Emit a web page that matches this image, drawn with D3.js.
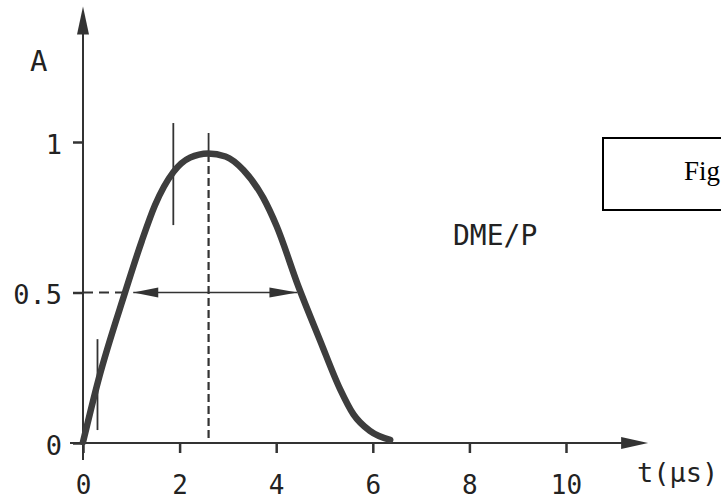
<!DOCTYPE html>
<html>
<head>
<meta charset="utf-8">
<script src="https://cdn.jsdelivr.net/npm/d3@7"></script>
<style>
    body { margin: 0; background: #fff; }
    svg { display: block; }
</style>
</head>
<body>
<svg id="mainSvg" width="721" height="502"></svg>
<script>
// pulse shape
let pulseT = [0, 0.32, 0.87, 1.215, 1.49, 1.87, 2.215, 2.59, 2.95, 3.32, 3.73, 4.01, 4.46, 4.91, 5.32, 5.6, 5.94, 6.36];
let pulseA = [0.003, 0.21, 0.5, 0.67, 0.79, 0.9, 0.948, 0.962, 0.952, 0.907, 0.815, 0.72, 0.52, 0.34, 0.18, 0.095, 0.04, 0.01];

let xTicks = [0, 2, 4, 6, 8, 10];
let yTicks = [0, 0.5, 1];
let yTickLabels = ["0", "0.5", "1"];

// short vertical markers on the rising edge
let markerT = [0.3, 1.87];
let markerLow = [0.043, 0.724];
let markerHigh = [0.345, 1.063];

// peak line and half amplitude width
let peakT = 2.6;
let peakTop = 1.03;
let halfA = 0.5;
let halfLeftT = 0.87;
let arrowLeftT = 1.04;
let arrowRightT = 4.44;

let xAxisMax = 11.7;
let yAxisMax = 1.45;

let svg = d3.select("#mainSvg");
let ink = "#333";
let mono = "DejaVu Sans Mono, monospace";

let x = d3.scaleLinear().domain([0, 10]).range([83, 566]);
let y = d3.scaleLinear().domain([0, 1]).range([443, 142]);

let g = svg.append("g");

// axis lines
g.append("line")
    .attr("x1", x(0) - 13).attr("x2", x(xAxisMax) - 20)
    .attr("y1", y(0)).attr("y2", y(0))
    .attr("stroke", ink).attr("stroke-width", 2);
g.append("line")
    .attr("x1", x(0)).attr("x2", x(0))
    .attr("y1", y(0) + 17).attr("y2", y(yAxisMax) + 20)
    .attr("stroke", ink).attr("stroke-width", 2);

// axis arrow heads
let xt = x(xAxisMax), yt = y(yAxisMax);
g.append("path")
    .attr("d", `M${xt},${y(0)} L${xt - 27},${y(0) - 6} L${xt - 27},${y(0) + 6} Z`)
    .attr("fill", ink);
g.append("path")
    .attr("d", `M${x(0)},${yt} L${x(0) - 6},${yt + 28} L${x(0) + 6},${yt + 28} Z`)
    .attr("fill", ink);

// ticks and labels
let xAxis = d3.axisBottom(x).tickValues(xTicks).tickSize(10).tickPadding(23);
let xg = g.append("g").attr("transform", `translate(0,${y(0)})`).call(xAxis);
xg.select(".domain").remove();
xg.selectAll(".tick line").attr("stroke", ink).attr("stroke-width", 2.5);
xg.selectAll(".tick text")
    .attr("fill", "#222").attr("font-family", mono).attr("font-size", 26);

let yAxis = d3.axisLeft(y).tickValues(yTicks).tickSize(10).tickPadding(11)
    .tickFormat((d, i) => yTickLabels[i]);
let yg = g.append("g").attr("transform", `translate(${x(0)},0)`).call(yAxis);
yg.select(".domain").remove();
yg.selectAll(".tick line").attr("stroke", ink).attr("stroke-width", 2.5);
yg.selectAll(".tick text")
    .attr("fill", "#222").attr("font-family", mono).attr("font-size", 27)
    .attr("dy", "0.42em");

// axis names
g.append("text").attr("x", 30).attr("y", 71)
    .attr("font-family", mono).attr("font-size", 29).attr("fill", "#222")
    .text("A");
g.append("text").attr("x", 637).attr("y", 482)
    .attr("font-family", mono).attr("font-size", 27).attr("fill", "#222")
    .text("t(μs)");
g.append("text").attr("x", 453).attr("y", 245)
    .attr("font-family", mono).attr("font-size", 28).attr("fill", "#222")
    .text("DME/P");

// marker lines
g.selectAll(".marker")
    .data(markerT)
    .join("line")
    .attr("class", "marker")
    .attr("x1", (d) => x(d)).attr("x2", (d) => x(d))
    .attr("y1", (d, i) => y(markerLow[i])).attr("y2", (d, i) => y(markerHigh[i]))
    .attr("stroke", ink).attr("stroke-width", 1.8);

// peak line: solid above the curve, dashed below
g.append("line")
    .attr("x1", x(peakT)).attr("x2", x(peakT))
    .attr("y1", y(peakTop)).attr("y2", y(0.96))
    .attr("stroke", ink).attr("stroke-width", 1.8);
g.append("line")
    .attr("x1", x(peakT)).attr("x2", x(peakT))
    .attr("y1", y(0.96)).attr("y2", y(0))
    .attr("stroke", ink).attr("stroke-width", 2.2)
    .attr("stroke-dasharray", "8,4");

// half amplitude: dashed lead in, then double arrow
g.append("line")
    .attr("x1", x(0)).attr("x2", x(halfLeftT))
    .attr("y1", y(halfA)).attr("y2", y(halfA))
    .attr("stroke", ink).attr("stroke-width", 1.8)
    .attr("stroke-dasharray", "10,6");
g.append("line")
    .attr("x1", x(arrowLeftT)).attr("x2", x(arrowRightT))
    .attr("y1", y(halfA)).attr("y2", y(halfA))
    .attr("stroke", ink).attr("stroke-width", 1.6);
let ha = y(halfA), al = x(arrowLeftT), ar = x(arrowRightT);
g.append("path")
    .attr("d", `M${al},${ha} L${al + 25},${ha - 5} L${al + 25},${ha + 5} Z`)
    .attr("fill", ink);
g.append("path")
    .attr("d", `M${ar},${ha} L${ar - 28},${ha - 5} L${ar - 28},${ha + 5} Z`)
    .attr("fill", ink);

// the pulse
let pulse = pulseT.map((t, i) => ({ t: t, a: pulseA[i] }));
let line = d3.line()
    .x((d) => x(d.t))
    .y((d) => y(d.a))
    .curve(d3.curveMonotoneX);
g.append("path")
    .datum(pulse)
    .attr("d", line)
    .attr("fill", "none")
    .attr("stroke", "#3d3d3d")
    .attr("stroke-width", 6.5)
    .attr("stroke-linecap", "round")
    .attr("stroke-linejoin", "round");

// text box cut at the right edge
g.append("rect")
    .attr("x", 603).attr("y", 138)
    .attr("width", 140).attr("height", 72)
    .attr("fill", "#fff").attr("stroke", "#000").attr("stroke-width", 2);
g.append("text").attr("x", 684).attr("y", 180)
    .attr("font-family", "Liberation Serif, Times New Roman, serif")
    .attr("font-size", 27).attr("fill", "#000")
    .text("Fig");
</script>
</body>
</html>
